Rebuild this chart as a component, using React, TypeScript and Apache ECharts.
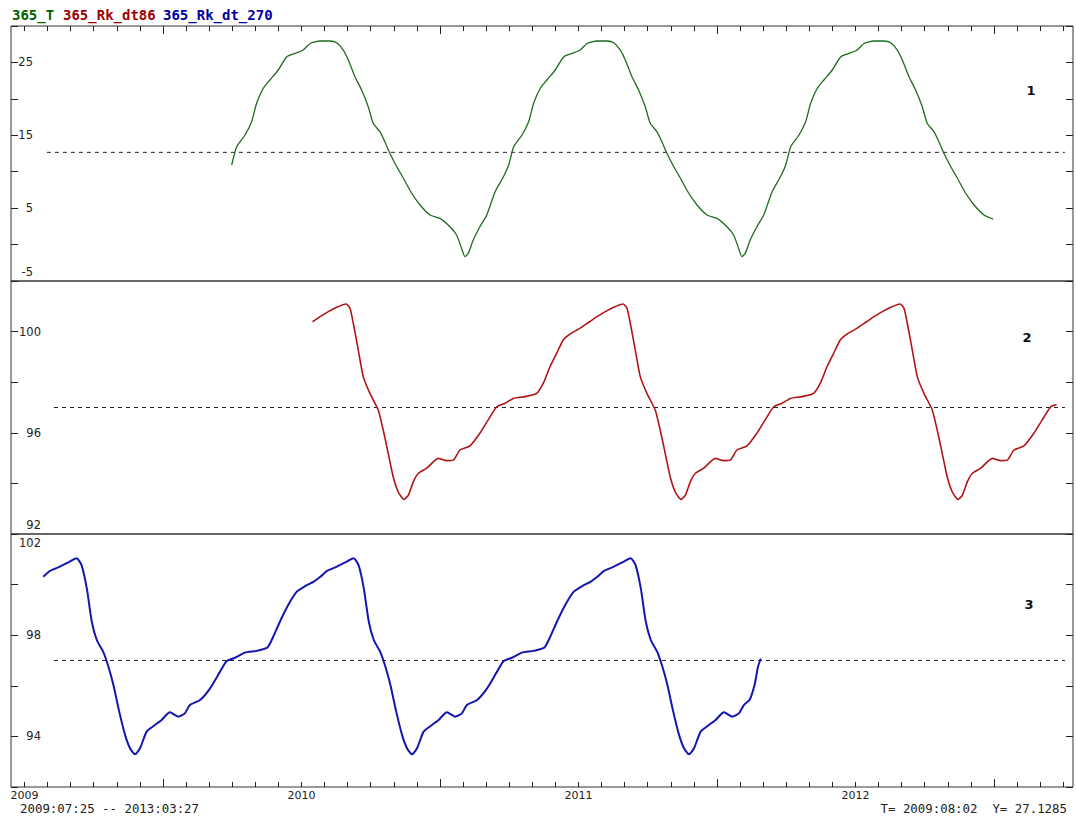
import React, { useEffect, useRef } from "react";
import * as echarts from "echarts";

// ---- axis ranges (decimal years) ----
const X_MIN = 2008.9513;
const X_MAX = 2012.7852;
const yearLabels = [2009, 2010, 2011, 2012];

// ---- panel y axes ----
const p1Range = [-5, 30];
const p1Labels = [-5, 5, 15, 25];
const p2Range = [92, 102];
const p2Labels = [92, 96, 100];
const p3Range = [92, 102];
const p3Labels = [94, 98, 102];

// ---- 365_T (panel 1) ----
const tYears = [
  2009.748, 2009.766, 2009.796, 2009.82, 2009.838, 2009.862, 2009.886, 2009.916, 2009.947, 2009.977,
  2010.006, 2010.031, 2010.067, 2010.103, 2010.127, 2010.151, 2010.169, 2010.193, 2010.217, 2010.241,
  2010.259, 2010.283, 2010.301, 2010.319, 2010.344, 2010.368, 2010.398, 2010.428, 2010.464, 2010.5,
  2010.536, 2010.56, 2010.578, 2010.59, 2010.602, 2010.62, 2010.644, 2010.669, 2010.699, 2010.729,
  2010.748, 2010.766, 2010.796, 2010.82, 2010.838, 2010.862, 2010.886, 2010.916, 2010.947, 2010.977,
  2011.006, 2011.031, 2011.067, 2011.103, 2011.127, 2011.151, 2011.169, 2011.193, 2011.217, 2011.241,
  2011.259, 2011.283, 2011.301, 2011.319, 2011.344, 2011.368, 2011.398, 2011.428, 2011.464, 2011.5,
  2011.536, 2011.56, 2011.578, 2011.59, 2011.602, 2011.62, 2011.644, 2011.669, 2011.699, 2011.729,
  2011.748, 2011.766, 2011.796, 2011.82, 2011.838, 2011.862, 2011.886, 2011.916, 2011.947, 2011.977,
  2012.006, 2012.031, 2012.067, 2012.103, 2012.127, 2012.151, 2012.169, 2012.193, 2012.217, 2012.241,
  2012.259, 2012.283, 2012.301, 2012.319, 2012.344, 2012.368, 2012.398, 2012.428, 2012.464, 2012.497,
];
const tValues = [
  10.92, 13.43, 15.04, 16.86, 19.39, 21.45, 22.59, 23.96, 25.79, 26.25,
  26.7, 27.6, 27.94, 27.94, 27.7, 26.7, 25.33, 23.04, 21.21, 18.92,
  16.64, 15.49, 14.12, 12.53, 10.69, 9.1, 7.04, 5.43, 4.06, 3.6,
  2.45, 1.31, -0.51, -1.66, -1.2, 0.63, 2.45, 4.06, 7.26, 9.31,
  10.92, 13.43, 15.04, 16.86, 19.39, 21.45, 22.59, 23.96, 25.79, 26.25,
  26.7, 27.6, 27.94, 27.94, 27.7, 26.7, 25.33, 23.04, 21.21, 18.92,
  16.64, 15.49, 14.12, 12.53, 10.69, 9.1, 7.04, 5.43, 4.06, 3.6,
  2.45, 1.31, -0.51, -1.66, -1.2, 0.63, 2.45, 4.06, 7.26, 9.31,
  10.92, 13.43, 15.04, 16.86, 19.39, 21.45, 22.59, 23.96, 25.79, 26.25,
  26.7, 27.6, 27.94, 27.94, 27.7, 26.7, 25.33, 23.04, 21.21, 18.92,
  16.64, 15.49, 14.12, 12.53, 10.69, 9.1, 7.04, 5.43, 4.06, 3.5,
];

// ---- 365_Rk_dt86 (panel 2) ----
const rYears = [
  2010.04, 2010.067, 2010.097, 2010.127, 2010.161, 2010.175, 2010.187, 2010.205, 2010.223, 2010.247,
  2010.277, 2010.295, 2010.313, 2010.331, 2010.349, 2010.37, 2010.386, 2010.404, 2010.422, 2010.452,
  2010.494, 2010.524, 2010.548, 2010.572, 2010.608, 2010.644, 2010.674, 2010.705, 2010.735, 2010.765,
  2010.807, 2010.849, 2010.873, 2010.897, 2010.921, 2010.945, 2010.969, 2011.005,
  2011.04, 2011.067, 2011.097, 2011.127, 2011.161, 2011.175, 2011.187, 2011.205, 2011.223, 2011.247,
  2011.277, 2011.295, 2011.313, 2011.331, 2011.349, 2011.37, 2011.386, 2011.404, 2011.422, 2011.452,
  2011.494, 2011.524, 2011.548, 2011.572, 2011.608, 2011.644, 2011.674, 2011.705, 2011.735, 2011.765,
  2011.807, 2011.849, 2011.873, 2011.897, 2011.921, 2011.945, 2011.969, 2012.005,
  2012.04, 2012.067, 2012.097, 2012.127, 2012.161, 2012.175, 2012.187, 2012.205, 2012.223, 2012.247,
  2012.277, 2012.295, 2012.313, 2012.331, 2012.349, 2012.37, 2012.386, 2012.404, 2012.422, 2012.452,
  2012.494, 2012.524, 2012.548, 2012.572, 2012.608, 2012.644, 2012.674, 2012.705, 2012.726,
];
const rValues = [
  100.39, 100.59, 100.79, 100.96, 101.09, 100.92, 100.33, 99.27, 98.22, 97.56,
  96.9, 96.11, 95.19, 94.26, 93.67, 93.37, 93.54, 94.07, 94.4, 94.6,
  94.99, 94.9, 94.92, 95.32, 95.48, 95.98, 96.51, 97.03, 97.17, 97.36,
  97.43, 97.56, 97.96, 98.61, 99.14, 99.67, 99.9, 100.13,
  100.39, 100.59, 100.79, 100.96, 101.09, 100.92, 100.33, 99.27, 98.22, 97.56,
  96.9, 96.11, 95.19, 94.26, 93.67, 93.37, 93.54, 94.07, 94.4, 94.6,
  94.99, 94.9, 94.92, 95.32, 95.48, 95.98, 96.51, 97.03, 97.17, 97.36,
  97.43, 97.56, 97.96, 98.61, 99.14, 99.67, 99.9, 100.13,
  100.39, 100.59, 100.79, 100.96, 101.09, 100.92, 100.33, 99.27, 98.22, 97.56,
  96.9, 96.11, 95.19, 94.26, 93.67, 93.37, 93.54, 94.07, 94.4, 94.6,
  94.99, 94.9, 94.92, 95.32, 95.48, 95.98, 96.51, 97.03, 97.12,
];

// ---- 365_Rk_dt_270 (panel 3) ----
const bYears = [
  2009.068, 2009.092, 2009.128, 2009.158, 2009.188, 2009.206, 2009.225, 2009.243, 2009.261, 2009.284,
  2009.303, 2009.321, 2009.342, 2009.363, 2009.381, 2009.399, 2009.417, 2009.441, 2009.471, 2009.495,
  2009.525, 2009.555, 2009.579, 2009.597, 2009.634, 2009.67, 2009.706, 2009.73, 2009.76, 2009.796,
  2009.838, 2009.877, 2009.898, 2009.922, 2009.952, 2009.983, 2010.019, 2010.043,
  2010.068, 2010.092, 2010.128, 2010.158, 2010.188, 2010.206, 2010.225, 2010.243, 2010.261, 2010.284,
  2010.303, 2010.321, 2010.342, 2010.363, 2010.381, 2010.399, 2010.417, 2010.441, 2010.471, 2010.495,
  2010.525, 2010.555, 2010.579, 2010.597, 2010.634, 2010.67, 2010.706, 2010.73, 2010.76, 2010.796,
  2010.838, 2010.877, 2010.898, 2010.922, 2010.952, 2010.983, 2011.019, 2011.043,
  2011.068, 2011.092, 2011.128, 2011.158, 2011.188, 2011.206, 2011.225, 2011.243, 2011.261, 2011.284,
  2011.303, 2011.321, 2011.342, 2011.363, 2011.381, 2011.399, 2011.417, 2011.441, 2011.471, 2011.495,
  2011.525, 2011.555, 2011.579, 2011.597, 2011.618, 2011.636, 2011.648, 2011.658,
];
const bValues = [
  100.31, 100.54, 100.71, 100.88, 101.04, 100.77, 99.85, 98.53, 97.81, 97.35,
  96.75, 96.03, 94.98, 94.06, 93.53, 93.29, 93.53, 94.19, 94.45, 94.65,
  94.95, 94.78, 94.91, 95.24, 95.44, 95.9, 96.56, 96.98, 97.11, 97.31,
  97.38, 97.51, 97.94, 98.53, 99.19, 99.72, 99.98, 100.11,
  100.31, 100.54, 100.71, 100.88, 101.04, 100.77, 99.85, 98.53, 97.81, 97.35,
  96.75, 96.03, 94.98, 94.06, 93.53, 93.29, 93.53, 94.19, 94.45, 94.65,
  94.95, 94.78, 94.91, 95.24, 95.44, 95.9, 96.56, 96.98, 97.11, 97.31,
  97.38, 97.51, 97.94, 98.53, 99.19, 99.72, 99.98, 100.11,
  100.31, 100.54, 100.71, 100.88, 101.04, 100.77, 99.85, 98.53, 97.81, 97.35,
  96.75, 96.03, 94.98, 94.06, 93.53, 93.29, 93.53, 94.19, 94.45, 94.65,
  94.95, 94.78, 94.91, 95.24, 95.45, 96.05, 96.75, 97.08,
];

// ---- dashed reference levels ----
const refYears1 = [2009.081, 2012.756];
const refLevel1 = 12.66;
const refYears23 = [2009.1065, 2012.756];
const refLevel2 = 97.0;
const refLevel3 = 97.0;

const legendNames = ["365_T", "365_Rk_dt86", "365_Rk_dt_270"];
const legendColors = ["#006400", "#a00000", "#0000a0"];
const lineColors = ["#1e6b1e", "#b01515", "#1515b0"];
const panelNames = ["1", "2", "3"];
const rangeText = "2009:07:25 -- 2013:03:27";
const cursorText = "T= 2009:08:02  Y= 27.1285";

const zip = (xs: number[], ys: number[]) => xs.map((x, i) => [x, ys[i]]);

// monthly ticks and mid-year long ticks
const monthTicks: number[] = [];
const julyTicks: number[] = [];
for (let y = yearLabels[0] - 1; y <= yearLabels[yearLabels.length - 1] + 1; y++) {
  for (let m = 0; m < 12; m++) {
    const v = y + m / 12;
    if (v >= X_MIN && v <= X_MAX) monthTicks.push(v);
  }
  if (y + 0.5 >= X_MIN && y + 0.5 <= X_MAX) julyTicks.push(y + 0.5);
}

const AX = "#222";
const FONT = "DejaVu Sans";
const MONO = "DejaVu Sans Mono";

function xAxisBase(gridIndex: number, position: "top" | "bottom") {
  return {
    type: "value" as const,
    gridIndex,
    position,
    min: X_MIN,
    max: X_MAX,
    axisLine: { show: false, onZero: false },
    splitLine: { show: false },
    axisLabel: { show: false },
    axisTick: { show: false },
  };
}

function yAxisLeft(gridIndex: number, range: number[], interval: number, labels: number[], margin: number) {
  return {
    type: "value" as const,
    gridIndex,
    position: "left" as const,
    min: range[0],
    max: range[1],
    interval,
    axisLine: { show: false, onZero: false },
    splitLine: { show: false },
    axisTick: { show: true, inside: true, length: 7, lineStyle: { color: AX, width: 1 } },
    axisLabel: {
      show: true,
      inside: true,
      align: "right",
      margin,
      color: AX,
      fontFamily: FONT,
      fontSize: 11.5,
      showMinLabel: true,
      showMaxLabel: true,
      hideOverlap: false,
      verticalAlignMinLabel: "bottom",
      verticalAlignMaxLabel: "top",
      rich: {
        lo: { fontFamily: FONT, fontSize: 11.5, color: AX, padding: [0, 0, 3, 0] },
        hi: { fontFamily: FONT, fontSize: 11.5, color: AX, padding: [3, 0, 0, 0] },
      },
      formatter: (v: number) => {
        if (!labels.some((l) => Math.abs(l - v) < 1e-6)) return "";
        if (Math.abs(v - range[0]) < 1e-6) return `{lo|${v}}`;
        if (Math.abs(v - range[1]) < 1e-6) return `{hi|${v}}`;
        return String(v);
      },
    },
  };
}

function yAxisRight(gridIndex: number, range: number[], interval: number) {
  return {
    type: "value" as const,
    gridIndex,
    position: "right" as const,
    min: range[0],
    max: range[1],
    interval,
    axisLine: { show: false, onZero: false },
    splitLine: { show: false },
    axisTick: { show: true, inside: true, length: 7, lineStyle: { color: AX, width: 1 } },
    axisLabel: { show: false },
  };
}

function lineSeries(data: number[][], color: string, width: number, xi: number, yi: number) {
  return {
    type: "line" as const,
    xAxisIndex: xi,
    yAxisIndex: yi,
    data,
    showSymbol: false,
    symbol: "none",
    smooth: 0.2,
    lineStyle: { color, width },
    silent: true,
    z: 3,
  };
}

function refSeries(xs: number[], level: number, xi: number, yi: number) {
  return {
    type: "line" as const,
    xAxisIndex: xi,
    yAxisIndex: yi,
    data: xs.map((x) => [x, level]),
    showSymbol: false,
    symbol: "none",
    lineStyle: { color: "#222", width: 1, type: [4, 4] },
    silent: true,
    z: 2,
  };
}

const gridBase = {
  left: 11,
  right: 3,
  show: true,
  borderColor: "#333",
  borderWidth: 1,
  backgroundColor: "transparent",
  containLabel: false,
  outerBoundsMode: "none",
};

const option: any = {
  animation: false,
  backgroundColor: "#ffffff",
  grid: [
    { ...gridBase, top: 26, height: 255 },
    { ...gridBase, top: 281, height: 253 },
    { ...gridBase, top: 534, height: 253 },
  ],
  xAxis: [
    {
      ...xAxisBase(0, "top"),
      axisTick: { show: true, inside: true, length: 5, customValues: monthTicks, lineStyle: { color: AX } },
    },
    {
      ...xAxisBase(0, "top"),
      axisTick: { show: true, inside: true, length: 8, customValues: julyTicks, lineStyle: { color: AX } },
    },
    { ...xAxisBase(1, "bottom") },
    {
      ...xAxisBase(2, "bottom"),
      axisTick: { show: true, inside: true, length: 5, customValues: monthTicks, lineStyle: { color: AX } },
      axisLabel: {
        show: true,
        customValues: yearLabels,
        margin: 3,
        color: AX,
        fontFamily: FONT,
        fontSize: 11,
        formatter: (v: number) => String(Math.round(v)),
      },
    },
    {
      ...xAxisBase(2, "bottom"),
      axisTick: { show: true, inside: true, length: 8, customValues: julyTicks, lineStyle: { color: AX } },
    },
  ],
  yAxis: [
    yAxisLeft(0, p1Range, 5, p1Labels, 22),
    yAxisRight(0, p1Range, 5),
    yAxisLeft(1, p2Range, 2, p2Labels, 30),
    yAxisRight(1, p2Range, 2),
    yAxisLeft(2, p3Range, 2, p3Labels, 30),
    yAxisRight(2, p3Range, 2),
  ],
  series: [
    refSeries(refYears1, refLevel1, 0, 0),
    lineSeries(zip(tYears, tValues), lineColors[0], 1.3, 0, 0),
    refSeries(refYears23, refLevel2, 2, 2),
    lineSeries(zip(rYears, rValues), lineColors[1], 1.6, 2, 2),
    refSeries(refYears23, refLevel3, 3, 4),
    lineSeries(zip(bYears, bValues), lineColors[2], 2, 3, 4),
  ],
  graphic: [
    {
      type: "text",
      x: 12,
      y: 15,
      style: { text: legendNames[0], fill: legendColors[0], font: `bold 14px "${MONO}"`, verticalAlign: "middle" },
    },
    {
      type: "text",
      x: 63,
      y: 15,
      style: { text: legendNames[1], fill: legendColors[1], font: `bold 14px "${MONO}"`, verticalAlign: "middle" },
    },
    {
      type: "text",
      x: 163,
      y: 15,
      style: { text: legendNames[2], fill: legendColors[2], font: `bold 14px "${MONO}"`, verticalAlign: "middle" },
    },
    {
      type: "text",
      x: 1031,
      y: 90,
      style: { text: panelNames[0], fill: "#111", font: `bold 13px "${FONT}"`, align: "center", verticalAlign: "middle" },
    },
    {
      type: "text",
      x: 1027,
      y: 337,
      style: { text: panelNames[1], fill: "#111", font: `bold 13px "${FONT}"`, align: "center", verticalAlign: "middle" },
    },
    {
      type: "text",
      x: 1029,
      y: 604,
      style: { text: panelNames[2], fill: "#111", font: `bold 13px "${FONT}"`, align: "center", verticalAlign: "middle" },
    },
    {
      type: "text",
      x: 20,
      y: 808,
      style: { text: rangeText, fill: "#222", font: `12.4px "${MONO}"`, verticalAlign: "middle" },
    },
    {
      type: "text",
      x: 1067,
      y: 808,
      style: { text: cursorText, fill: "#222", font: `12.4px "${MONO}"`, align: "right", verticalAlign: "middle" },
    },
  ],
};

export default function App() {
  const ref = useRef<HTMLDivElement>(null);
  useEffect(() => {
    if (!ref.current) return;
    const chart = echarts.init(ref.current, null, { renderer: "svg" });
    chart.setOption(option);
    return () => chart.dispose();
  }, []);
  return (
    <div
      ref={ref}
      style={{ position: "absolute", left: 0, top: 0, width: 1076, height: 820, background: "#fff" }}
    />
  );
}
